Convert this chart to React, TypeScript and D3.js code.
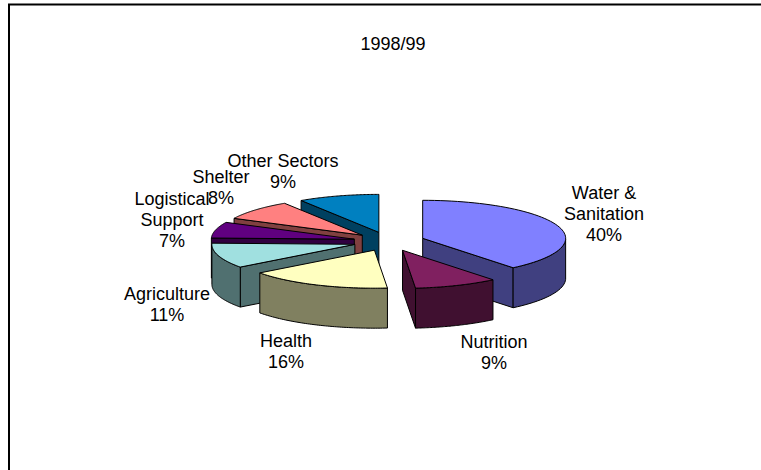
import React from "react";
import * as d3 from "d3";

const W = 761, H = 470;
const title = "1998/99";
const categories = ["Water & Sanitation", "Nutrition", "Health", "Agriculture", "Logistical Support", "Shelter", "Other Sectors"];
const values = [39.1, 9.45, 16.25, 10.7, 6.8, 8.55, 9.15];
const percentLabels = ["40%", "9%", "16%", "11%", "7%", "8%", "9%"];
const topColors = ["#8080ff", "#802060", "#ffffc0", "#a0e0e0", "#600080", "#ff8080", "#0080c0"];
const sideColors = ["#404080", "#401030", "#808060", "#507070", "#300040", "#804040", "#004060"];
const labelLines = [["Water &", "Sanitation"], ["Nutrition"], ["Health"], ["Agriculture"], ["Logistical", "Support"], ["Shelter"], ["Other Sectors"]];
const labelX = [604, 494, 286, 167, 172, 221, 283];
const labelY = [199, 348, 346.5, 299.5, 204.5, 183, 167];
const drawOrder = [6, 5, 4, 3, 0, 1, 2];

const cx = 389, cy = 241.5, rx = 143, ry = 38, depth = 40, explode = 0.25;
const font = "'Liberation Sans', Arial, sans-serif";

const arcs = d3.pie<number>().sort(null).startAngle(0).endAngle(2 * Math.PI)(values);

function project(a: number, ox: number, oy: number): [number, number] {
  return [ox + rx * Math.sin(a), oy - ry * Math.cos(a)];
}
const line = d3.line<[number, number]>();

export default function App() {
  return (
    <svg width={W} height={H} style={{ position: "absolute", left: 0, top: 0, background: "#fff" }} fontFamily={font}>
      <path d={`M9,${H}V4.5H${W}`} fill="none" stroke="#000" strokeWidth={2} />
      <text x={393} y={50} fontSize={18} textAnchor="middle">{title}</text>
      {drawOrder.map((i) => {
        const d = arcs[i];
        const mid = (d.startAngle + d.endAngle) / 2;
        const [ox, oy] = [cx + explode * rx * Math.sin(mid), cy - explode * ry * Math.cos(mid)];
        const angles = d3.range(0, 61).map((k) => d.startAngle + ((d.endAngle - d.startAngle) * k) / 60);
        const rim = angles.map((a) => project(a, ox, oy));
        const top = line([[ox, oy], ...rim, [ox, oy]]) + "Z";
        const near = angles.filter((a) => a >= Math.PI / 2 && a <= 1.5 * Math.PI).map((a) => project(a, ox, oy));
        const outer = near.length > 1
          ? line([...near, ...near.slice().reverse().map(([x, y]) => [x, y + depth] as [number, number])]) + "Z"
          : null;
        const wall = (a: number) => {
          const [x, y] = project(a, ox, oy);
          return line([[ox, oy], [x, y], [x, y + depth], [ox, oy + depth]]) + "Z";
        };
        const startVisible = d.startAngle > Math.PI;
        const endVisible = d.endAngle <= Math.PI;
        const walls = [startVisible ? wall(d.startAngle) : null, endVisible ? wall(d.endAngle) : null];
        return (
          <g key={categories[i]} stroke="#000" strokeWidth={1} strokeLinejoin="round">
            {walls.map((w, k) => w && <path key={k} d={w} fill={sideColors[i]} />)}
            {outer && <path d={outer} fill={sideColors[i]} />}
            <path d={top} fill={topColors[i]} />
          </g>
        );
      })}
      {categories.map((c, i) => (
        <text key={c} fontSize={18} textAnchor="middle" fill="#000">
          {[...labelLines[i], percentLabels[i]].map((t, k) => (
            <tspan key={k} x={labelX[i]} y={labelY[i] + k * 21}>{t}</tspan>
          ))}
        </text>
      ))}
    </svg>
  );
}
